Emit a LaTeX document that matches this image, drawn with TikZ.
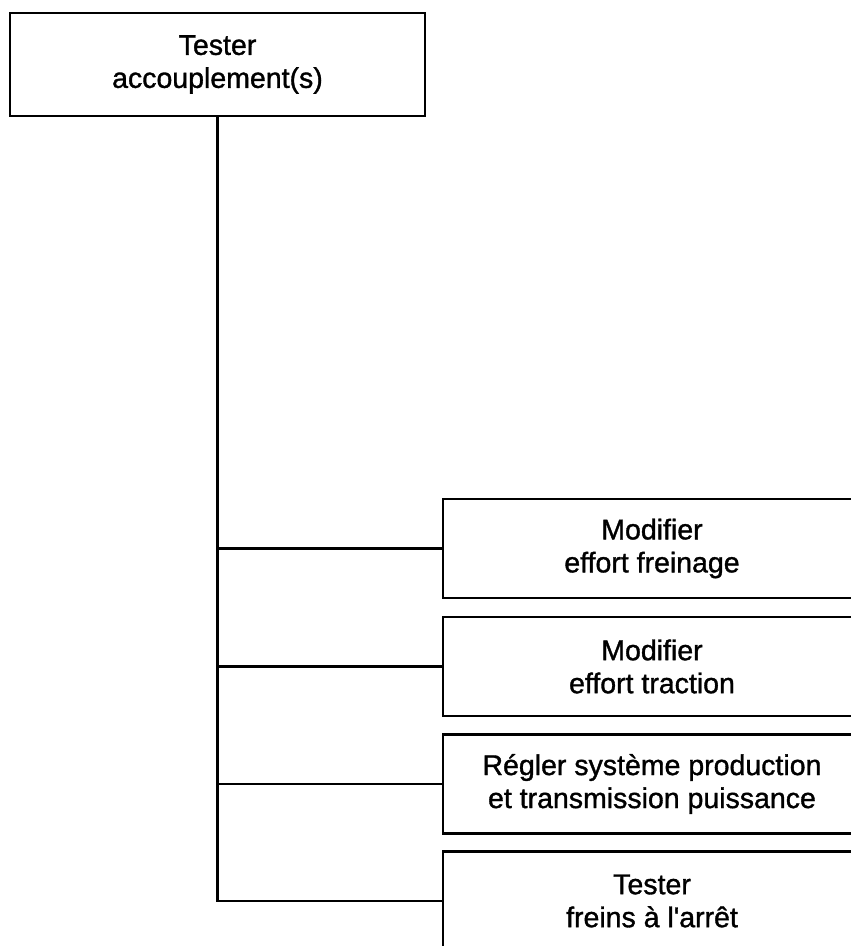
\documentclass[tikz,border=0pt]{standalone}
\usepackage{fontspec}
\setmainfont{Liberation Sans}[FakeBold=1.2]
\begin{document}
\begin{tikzpicture}[x=1pt,y=-1pt,
  box/.style={draw, line width=2.8pt, align=center, font=\fontsize{28.5}{33}\selectfont, inner sep=0pt},
  topbox/.style={box, minimum width=415pt, minimum height=103pt},
  subbox/.style={box, minimum width=418pt, minimum height=99pt},
  link/.style={line width=2.6pt}]
\useasboundingbox (0,0) rectangle (851,946);
\clip (0,0) rectangle (851,946);
\node[topbox] (t) at (217.5,64.5) {Tester\\accouplement(s)};
\node[subbox] (r1) at (652,548.5) {Modifier\\effort freinage};
\node[subbox] (r2) at (652,666.5) {Modifier\\effort traction};
\node[subbox] (r3) at (652,784) {Régler système production\\et transmission puissance};
\node[subbox] (r4) at (652,901) {Tester\\freins à l\textquotesingle arrêt};
\draw[link] (t.south) |- (r4.west);
\foreach \i in {1,2,3} \draw[link] (t.south |- r\i.west) -- (r\i.west);
\end{tikzpicture}
\end{document}
